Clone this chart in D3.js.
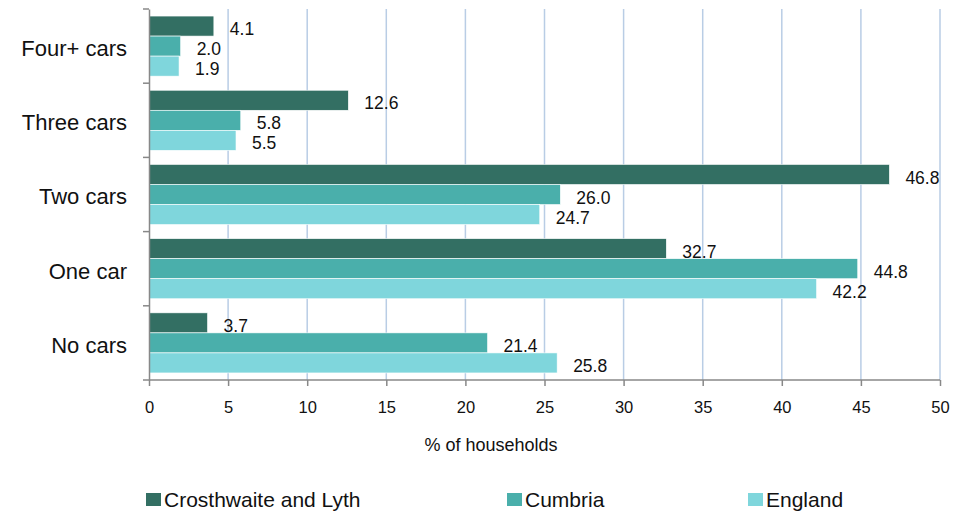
<!DOCTYPE html>
<html>
<head>
<meta charset="utf-8">
<script src="https://cdnjs.cloudflare.com/ajax/libs/d3/7.8.5/d3.min.js"></script>
<style>
  body { margin: 0; background: #fff; }
  svg { display: block; font-family: "Liberation Sans", Arial, sans-serif; }
</style>
</head>
<body>
<svg id="chart" width="966" height="512"></svg>
<script>
// Car availability by household, % of households
const categories = ["Four+ cars", "Three cars", "Two cars", "One car", "No cars"];
const seriesNames = ["Crosthwaite and Lyth", "Cumbria", "England"];
const crosthwaite = [4.1, 12.6, 46.8, 32.7, 3.7];
const cumbria = [2.0, 5.8, 26.0, 44.8, 21.4];
const england = [1.9, 5.5, 24.7, 42.2, 25.8];
const xTicks = [0, 5, 10, 15, 20, 25, 30, 35, 40, 45, 50];
const colors = ["#336f63", "#4aafab", "#7fd6dc"];

(function () {
  const series = [crosthwaite, cumbria, england];
  const svg = d3.select("#chart");

  const plotLeft = 149, plotRight = 940, plotTop = 9, plotBottom = 380;

  const x = d3.scaleLinear().domain([0, 50]).range([plotLeft, plotRight]);
  const y = d3.scaleBand().domain(categories).range([plotTop, plotBottom]).paddingInner(0.19).paddingOuter(0.095);
  const ySub = d3.scaleBand().domain(seriesNames).range([0, y.bandwidth()]);

  // vertical gridlines
  svg.append("g").selectAll("line")
    .data(xTicks.filter(d => d > 0))
    .join("line")
    .attr("x1", d => x(d)).attr("x2", d => x(d))
    .attr("y1", plotTop).attr("y2", plotBottom)
    .attr("stroke", "#b9cde5").attr("stroke-width", 1.5);

  // bars and value labels
  series.forEach((vals, si) => {
    const g = svg.append("g");
    g.selectAll("rect")
      .data(vals)
      .join("rect")
      .attr("x", x(0))
      .attr("y", (d, i) => y(categories[i]) + ySub(seriesNames[si]))
      .attr("width", d => x(d) - x(0))
      .attr("height", ySub.bandwidth())
      .attr("fill", colors[si])
      .attr("stroke", "#ffffff").attr("stroke-width", 0.6);
    g.selectAll("text")
      .data(vals)
      .join("text")
      .attr("x", d => x(d) + 16)
      .attr("y", (d, i) => y(categories[i]) + ySub(seriesNames[si]) + ySub.bandwidth() / 2 + 3)
      .attr("dy", "0.35em")
      .attr("font-size", 17.5)
      .attr("fill", "#111")
      .text(d => d.toFixed(1));
  });

  // category axis
  const yAxis = d3.axisLeft(y).tickSize(0).tickPadding(22);
  const ya = svg.append("g").attr("transform", `translate(${plotLeft},0)`).call(yAxis);
  ya.select(".domain").attr("stroke", "#888").attr("stroke-width", 1.5);
  ya.selectAll("text").attr("font-size", 22).attr("fill", "#111")
    .attr("font-family", "Liberation Sans, Arial, sans-serif")
    .attr("dy", "0.45em");
  // tick marks on band boundaries
  const bounds = categories.map(c => y(c) - y.step() * y.paddingInner() / 2);
  bounds.push(plotBottom);
  bounds[0] = plotTop;
  svg.append("g").selectAll("line")
    .data(bounds)
    .join("line")
    .attr("x1", plotLeft - 6).attr("x2", plotLeft)
    .attr("y1", d => d).attr("y2", d => d)
    .attr("stroke", "#888").attr("stroke-width", 1.5);

  // value axis
  const xAxis = d3.axisBottom(x).tickValues(xTicks).tickSize(6).tickPadding(15).tickFormat(d3.format("d"));
  const xa = svg.append("g").attr("transform", `translate(0,${plotBottom})`).call(xAxis);
  xa.select(".domain").attr("stroke", "#888").attr("stroke-width", 1.5).attr("d", `M${plotLeft},0H${plotRight}`);
  xa.selectAll(".tick line").attr("stroke", "#888").attr("stroke-width", 1.5);
  xa.selectAll("text").attr("font-size", 16.5).attr("fill", "#111").attr("font-family", "Liberation Sans, Arial, sans-serif");

  // axis title
  svg.append("text")
    .attr("x", 491).attr("y", 451)
    .attr("text-anchor", "middle")
    .attr("font-size", 18).attr("fill", "#111")
    .text("% of households");

  // legend
  const legendX = [146, 507, 748];
  const lg = svg.append("g");
  seriesNames.forEach((name, i) => {
    lg.append("rect")
      .attr("x", legendX[i]).attr("y", 493)
      .attr("width", 15).attr("height", 13)
      .attr("fill", colors[i]);
    lg.append("text")
      .attr("x", legendX[i] + 18).attr("y", 499)
      .attr("dy", "0.36em")
      .attr("font-size", 21).attr("fill", "#111")
      .text(name);
  });
})();
</script>
</body>
</html>
